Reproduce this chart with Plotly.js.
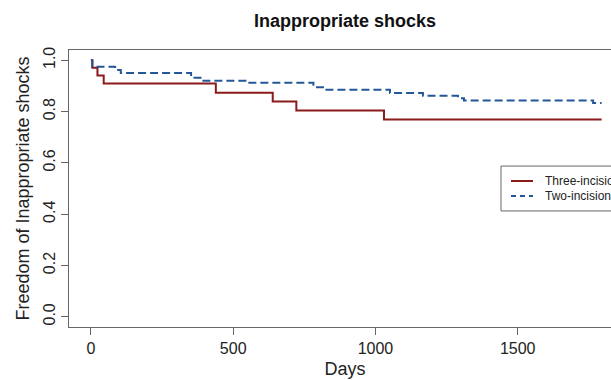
<!DOCTYPE html>
<html>
<head>
<meta charset="utf-8">
<script src="https://cdn.plot.ly/plotly-3.0.1.min.js"></script>
<style>
html,body{margin:0;padding:0;overflow:hidden;background:#fff;}
#chart{width:660px;height:380px;}
</style>
</head>
<body>
<div id="chart"></div>
<script>
// Kaplan-Meier step data
var threeDays = [0, 5, 23, 45, 439, 639, 722, 1030, 1795];
var threeSurv = [1.0, 0.971, 0.941, 0.909, 0.873, 0.839, 0.804, 0.769, 0.769];
var twoDays = [0, 5, 85, 105, 352, 390, 552, 782, 823, 1051, 1167, 1290, 1311, 1765, 1795];
var twoSurv = [1.0, 0.975, 0.962, 0.950, 0.932, 0.920, 0.912, 0.895, 0.885, 0.872, 0.862, 0.852, 0.843, 0.833, 0.833];
var seriesNames = ["Three-incision", "Two-incision"];
var xTicks = [0, 500, 1000, 1500];
var yTicks = [0, 0.2, 0.4, 0.6, 0.8, 1.0];
var yTickText = ["0.0", "0.2", "0.4", "0.6", "0.8", "1.0"];

var redCol = "#8B1A1A", blueCol = "#24579A";
var font = "Liberation Sans, Arial, sans-serif";

var traces = [
  {x: threeDays, y: threeSurv, name: seriesNames[0], mode: "lines",
   line: {shape: "hv", color: redCol, width: 2}, showlegend: false},
  {x: twoDays, y: twoSurv, name: seriesNames[1], mode: "lines",
   line: {shape: "hv", color: blueCol, width: 2, dash: "8px,4px"}, showlegend: false}
];

var layout = {
  width: 660, height: 380,
  margin: {l: 69, r: 39, t: 50, b: 53},
  paper_bgcolor: "#fff", plot_bgcolor: "#fff",
  font: {family: font, color: "#222", size: 16},
  title: {text: "<b>Inappropriate shocks</b>", x: 0.5, xref: "paper", y: 0.945, yanchor: "middle",
          font: {family: font, size: 18, color: "#111"}},
  xaxis: {range: [-77, 1863], tickvals: xTicks, ticks: "outside", ticklen: 7, tickcolor: "#666",
          showline: true, mirror: true, linecolor: "#666", linewidth: 1, showgrid: false, zeroline: false,
          tickfont: {size: 16, color: "#222"},
          title: {text: "Days", font: {size: 18, color: "#222"}, standoff: 6}},
  yaxis: {range: [-0.04, 1.04], tickvals: yTicks, ticktext: yTickText, ticks: "outside", ticklen: 7,
          tickcolor: "#666", tickangle: -90,
          showline: true, mirror: true, linecolor: "#666", linewidth: 1, showgrid: false, zeroline: false,
          tickfont: {size: 16, color: "#222"},
          title: {text: "Freedom of Inappropriate shocks", font: {size: 18, color: "#222"}, standoff: 6}},
  shapes: [
    {type: "rect", xref: "paper", yref: "paper", x0: 0.7826, x1: 1.2, y0: 0.419, y1: 0.581,
     line: {color: "#666", width: 1}, fillcolor: "rgba(0,0,0,0)"},
    {type: "line", xref: "paper", yref: "paper", x0: 0.8007, x1: 0.8406, y0: 0.527, y1: 0.527,
     line: {color: redCol, width: 2}},
    {type: "line", xref: "paper", yref: "paper", x0: 0.8007, x1: 0.8406, y0: 0.473, y1: 0.473,
     line: {color: blueCol, width: 2, dash: "5px,4px"}}
  ],
  annotations: [
    {xref: "paper", yref: "paper", x: 0.8587, y: 0.527, xanchor: "left", yanchor: "middle",
     text: seriesNames[0], showarrow: false, font: {size: 12, color: "#222"}},
    {xref: "paper", yref: "paper", x: 0.8587, y: 0.473, xanchor: "left", yanchor: "middle",
     text: seriesNames[1], showarrow: false, font: {size: 12, color: "#222"}}
  ]
};

Plotly.newPlot("chart", traces, layout, {displayModeBar: false, staticPlot: true});
</script>
</body>
</html>
